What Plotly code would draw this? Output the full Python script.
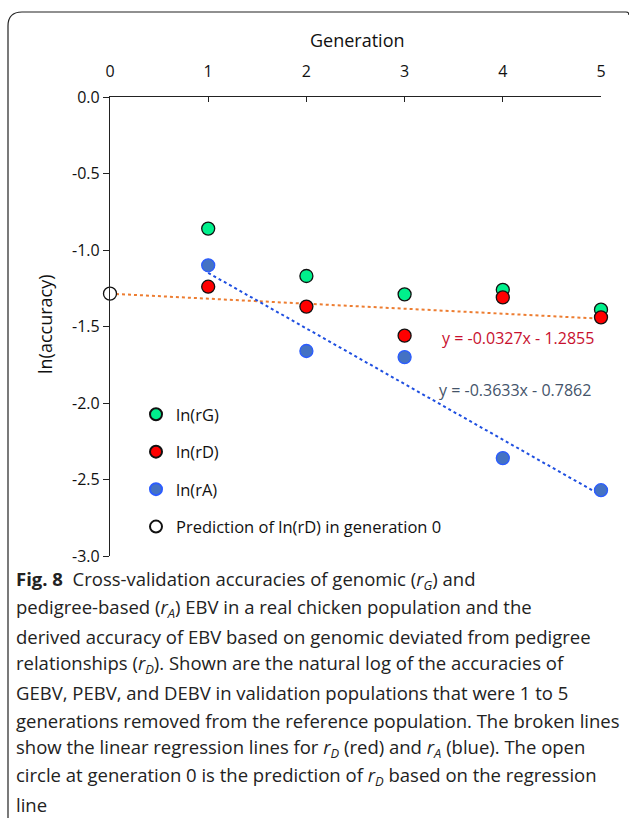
import plotly.graph_objects as go

# Generations removed from the reference population
generation = [1, 2, 3, 4, 5]

# Natural log of validation accuracies
ln_rG = [-0.86, -1.17, -1.29, -1.26, -1.39]
ln_rD = [-1.24, -1.37, -1.56, -1.31, -1.44]
ln_rA = [-1.10, -1.66, -1.70, -2.36, -2.57]

# Linear regression coefficients (slope, intercept)
fit_rD = (-0.0327, -1.2855)
fit_rA = (-0.3633, -0.7862)

x_ticks = [0, 1, 2, 3, 4, 5]
y_ticks = [0.0, -0.5, -1.0, -1.5, -2.0, -2.5, -3.0]

caption_lines = [
    "<b>Fig. 8</b>  Cross-validation accuracies of genomic (<i>r</i><sub><i>G</i></sub>) and",
    "pedigree-based (<i>r</i><sub><i>A</i></sub>) EBV in a real chicken population and the",
    "derived accuracy of EBV based on genomic deviated from pedigree",
    "relationships (<i>r</i><sub><i>D</i></sub>). Shown are the natural log of the accuracies of",
    "GEBV, PEBV, and DEBV in validation populations that were 1 to 5",
    "generations removed from the reference population. The broken lines",
    "show the linear regression lines for <i>r</i><sub><i>D</i></sub> (red) and <i>r</i><sub><i>A</i></sub> (blue). The open",
    "circle at generation 0 is the prediction of <i>r</i><sub><i>D</i></sub> based on the regression",
    "line",
]

W, H = 629, 820
L, R, T, B = 110, 601, 97, 556  # plot area in pixels


def px(x):
    return (x - L) / (R - L)


def py(y):
    return (B - y) / (B - T)


FONT = "Open Sans"
INK = "#111111"

fig = go.Figure()

# Regression lines
xd = [0, 5]
fig.add_trace(go.Scatter(
    x=xd, y=[fit_rD[0] * v + fit_rD[1] for v in xd], mode="lines",
    line=dict(color="#ED7D31", width=2, dash="dot"), showlegend=False,
    hoverinfo="skip", cliponaxis=False))
xa = [1, 5]
fig.add_trace(go.Scatter(
    x=xa, y=[fit_rA[0] * v + fit_rA[1] for v in xa], mode="lines",
    line=dict(color="#1F4FE0", width=2, dash="dot"), showlegend=False,
    hoverinfo="skip", cliponaxis=False))

# Observed points
fig.add_trace(go.Scatter(
    x=generation, y=ln_rA, mode="markers", name="ln(rA)", legendgroup="a",
    legendrank=3, cliponaxis=False,
    marker=dict(size=13, color="#4472C4", line=dict(color="#2B5CFF", width=1.3))))
fig.add_trace(go.Scatter(
    x=generation, y=ln_rG, mode="markers", name="ln(rG)", legendgroup="g",
    legendrank=1, cliponaxis=False,
    marker=dict(size=13, color="#00F08C", line=dict(color=INK, width=1.3))))
fig.add_trace(go.Scatter(
    x=generation, y=ln_rD, mode="markers", name="ln(rD)", legendgroup="d",
    legendrank=2, cliponaxis=False,
    marker=dict(size=13, color="#FF0000", line=dict(color=INK, width=1.3))))

# Prediction at generation 0 from the r_D regression
fig.add_trace(go.Scatter(
    x=[0], y=[fit_rD[1]], mode="markers",
    name="Prediction of ln(rD) in generation 0", legendgroup="p",
    legendrank=4, cliponaxis=False,
    marker=dict(size=13, color="white", line=dict(color=INK, width=1.3))))

annotations = [
    dict(text="Generation", x=px(357), y=py(40), xref="paper", yref="paper",
         xanchor="center", yanchor="middle", showarrow=False,
         font=dict(family=FONT, size=18, color=INK)),
    dict(text="ln(accuracy)", x=px(45), y=py(325), xref="paper", yref="paper",
         xanchor="center", yanchor="middle", showarrow=False, textangle=-90,
         font=dict(family=FONT, size=18, color=INK)),
    dict(text="y = -0.0327x - 1.2855", x=px(440), y=py(338), xref="paper",
         yref="paper", xanchor="left", yanchor="middle", showarrow=False,
         font=dict(family=FONT, size=16, color="#C8102E")),
    dict(text="y = -0.3633x - 0.7862", x=px(437), y=py(390), xref="paper",
         yref="paper", xanchor="left", yanchor="middle", showarrow=False,
         font=dict(family=FONT, size=16, color="#44546A")),
]

for i, line in enumerate(caption_lines):
    annotations.append(dict(
        text=line, x=px(14), y=py(580 + 28 * i), xref="paper", yref="paper",
        xanchor="left", yanchor="middle", showarrow=False, align="left",
        font=dict(family=FONT, size=18.5, color="#222222")))

frame_path = (
    f"M {px(8)} {py(818)} L {px(8)} {py(26)} "
    f"Q {px(8)} {py(12)} {px(22)} {py(12)} "
    f"L {px(626)} {py(12)} Q {px(629)} {py(12)} {px(629)} {py(15)}"
)

fig.update_layout(
    width=W, height=H,
    margin=dict(l=L, r=W - R, t=T, b=H - B),
    paper_bgcolor="white", plot_bgcolor="white",
    font=dict(family=FONT, size=16, color=INK),
    xaxis=dict(
        range=[0, 5], side="top", tickvals=x_ticks,
        ticktext=[str(v) for v in x_ticks],
        showline=True, linecolor="#222222", linewidth=1.2,
        ticks="inside", ticklen=5, tickcolor="#222222",
        ticklabelstandoff=13, showgrid=False, zeroline=False,
        tickfont=dict(family=FONT, size=16)),
    yaxis=dict(
        range=[-3, 0], tickvals=y_ticks,
        ticktext=[f"{v:.1f}" for v in y_ticks],
        showline=True, linecolor="#222222", linewidth=1.2,
        ticks="outside", ticklen=6, tickcolor="#222222",
        showgrid=False, zeroline=False,
        tickfont=dict(family=FONT, size=16)),
    legend=dict(
        x=px(136), y=py(397), xanchor="left", yanchor="top",
        bgcolor="rgba(0,0,0,0)", font=dict(family=FONT, size=16.5),
        tracegroupgap=13, itemsizing="constant", traceorder="grouped"),
    annotations=annotations,
    shapes=[dict(type="path", path=frame_path, xref="paper", yref="paper",
                 line=dict(color="#222222", width=1.2))],
)

fig.write_html("out.html")
